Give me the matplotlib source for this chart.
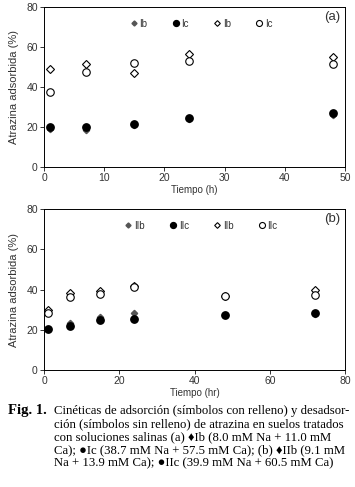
import numpy as np
import matplotlib.pyplot as plt

# panel (a)
t_a = [1, 7, 15, 24, 48]
ib_ads = [19.0, 18.7, 21.2, 23.8, 25.8]
ic_ads = [19.8, 20.0, 21.7, 24.5, 26.8]
ib_des = [49.0, 51.3, 47.2, 56.5, 54.8]
ic_des = [37.7, 47.5, 51.8, 53.0, 51.2]
labels_a = ['Ib', 'Ic', 'Ib', 'Ic']

# panel (b)
t_b = [1, 7, 15, 24, 48, 72]
iib_ads = [20.5, 23.2, 26.3, 28.3, 27.6, 28.0]
iic_ads = [20.5, 22.0, 24.8, 25.2, 27.6, 28.1]
iib_des = [29.8, 38.4, 39.2, 41.9, 36.9, 40.0]
iic_des = [28.5, 36.4, 37.9, 41.2, 36.9, 37.1]
labels_b = ['IIb', 'IIc', 'IIb', 'IIc']

caption = [
    "Cinéticas de adsorción (símbolos con relleno) y desadsor-",
    "ción (símbolos sin relleno) de atrazina en suelos tratados",
    "con soluciones salinas (a) \u2666Ib (8.0 mM Na + 11.0 mM",
    "Ca); \u25cfIc (38.7 mM Na + 57.5 mM Ca); (b) \u2666IIb (9.1 mM",
    "Na + 13.9 mM Ca); \u25cfIIc (39.9 mM Na + 60.5 mM Ca)",
]

plt.rcParams['font.family'] = ['Liberation Sans', 'DejaVu Sans']
txt = '#333333'

fig = plt.figure(figsize=(3.55, 4.87), dpi=100)
ax1 = fig.add_axes([0.124, 0.657, 0.848, 0.329])
ax2 = fig.add_axes([0.124, 0.240, 0.848, 0.331])


def draw(ax, t, b_ads, c_ads, b_des, c_des, labels, xmax, xstep, xlabel, tag):
    h1, = ax.plot(t, b_ads, 'D', ms=3.2, color='#555555', mec='#555555', ls='none')
    h2, = ax.plot(t, c_ads, 'o', ms=5.3, color='black', ls='none')
    h3, = ax.plot(t, b_des, 'D', ms=3.6, mfc='white', mec='black', mew=0.8, ls='none')
    h4, = ax.plot(t, c_des, 'o', ms=5.4, mfc='white', mec='black', mew=0.8, ls='none')
    ax.set_xlim(0, xmax)
    ax.set_ylim(0, 80)
    ax.set_xticks(np.arange(0, xmax + 1, xstep))
    ax.set_yticks([0, 20, 40, 60, 80])
    ax.tick_params(direction='out', length=3, width=0.7, labelsize=7.5, colors=txt, pad=1.5)
    for s in ax.spines.values():
        s.set_linewidth(0.7)
    ax.set_xlabel(xlabel, fontsize=7, color=txt, labelpad=1)
    ax.set_ylabel('Atrazina adsorbida (%)', fontsize=8, color=txt, labelpad=5)
    ax.text(0.983, 0.935, tag, transform=ax.transAxes, ha='right', va='center', fontsize=9.5, color=txt)
    ax.legend([h1, h2, h3, h4], labels, ncol=4, frameon=False, fontsize=7,
              loc='center', bbox_to_anchor=(0.52, 0.895), handletextpad=0.1,
              columnspacing=2.4, handlelength=1.0, borderpad=0, labelcolor=txt,
              markerscale=0.8)


draw(ax1, t_a, ib_ads, ic_ads, ib_des, ic_des, labels_a, 50, 10, 'Tiempo (h)', '(a)')
draw(ax2, t_b, iib_ads, iic_ads, iib_des, iic_des, labels_b, 80, 20, 'Tiempo (hr)', '(b)')

serif = ['Liberation Serif', 'DejaVu Serif']
fig.text(8 / 355, 1 - 414 / 487, 'Fig. 1.', fontsize=10.5, fontweight='bold', family=serif, va='baseline')
for i, line in enumerate(caption):
    fig.text(54 / 355, 1 - (414 + i * 13) / 487, line, fontsize=9.2, family=serif, va='baseline')

fig.savefig('out.png', dpi=100)
